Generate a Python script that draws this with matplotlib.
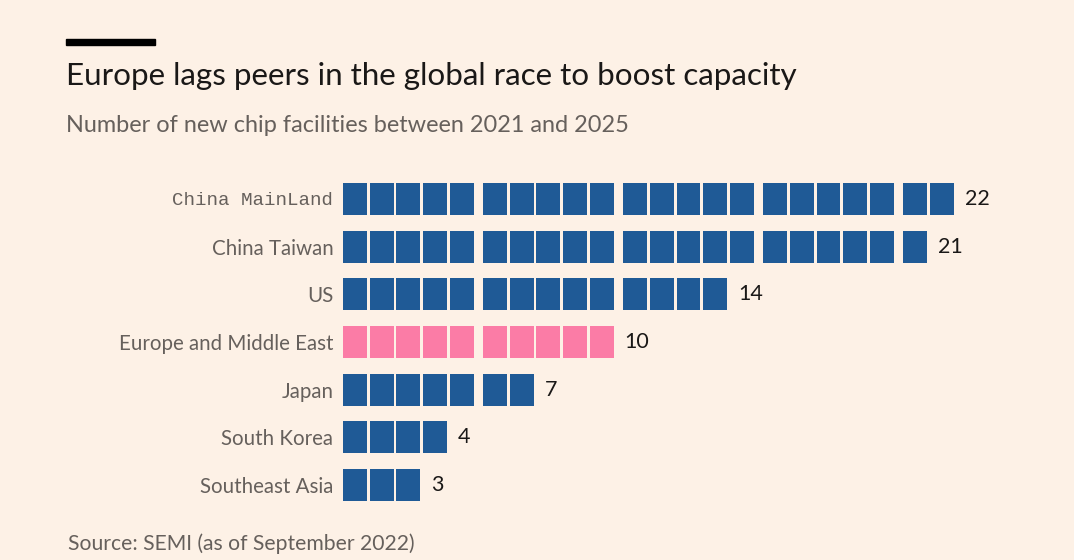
import matplotlib.pyplot as plt
from matplotlib.patches import Rectangle

countries = ["China MainLand", "China Taiwan", "US", "Europe and Middle East",
             "Japan", "South Korea", "Southeast Asia"]
facilities = [22, 21, 14, 10, 7, 4, 3]
highlight = "Europe and Middle East"

bg = "#fdf1e6"
blue = "#1f5a96"
pink = "#fb7ca6"
grey = "#66605c"
ink = "#1a1817"

plt.rcParams["font.family"] = ["Lato", "DejaVu Sans"]

fig = plt.figure(figsize=(10.74, 5.6), dpi=100, facecolor=bg)
ax = fig.add_axes([0.3194, 0.0914, 0.6713, 0.5959])
ax.set_facecolor(bg)

group_gap = 0.245
block_w = 0.89
for row, (name, n) in enumerate(zip(countries, facilities)):
    xs = [i + (i // 5) * group_gap for i in range(n)]
    color = pink if name == highlight else blue
    ax.bar(xs, [0.67] * n, bottom=row - 0.335, width=block_w, align="edge",
           color=color, linewidth=0)
    ax.annotate(str(n), xy=(xs[-1] + block_w, row), xytext=(8, 0),
                textcoords="offset points", va="center", ha="left",
                fontsize=15.5, color=ink)

ax.set_xlim(0, 27)
ax.set_ylim(len(countries) - 0.5, -0.5)
ax.set_xticks([])
ax.set_yticks(range(len(countries)))
ax.set_yticklabels(countries, fontsize=14.8, color=grey)
ax.tick_params(axis="y", length=0, pad=7)
ax.get_yticklabels()[0].set_fontfamily("Liberation Mono")
ax.get_yticklabels()[0].set_fontsize(13.8)
for s in ax.spines.values():
    s.set_visible(False)

fig.patches.append(Rectangle((66 / 1074, 1 - 45 / 560), 89 / 1074, 6 / 560,
                             transform=fig.transFigure, color="black"))
fig.text(66 / 1074, 1 - 76 / 560, "Europe lags peers in the global race to boost capacity",
         fontsize=22.6, color=ink, va="center", ha="left")
fig.text(66 / 1074, 1 - 126 / 560, "Number of new chip facilities between 2021 and 2025",
         fontsize=16.9, color=grey, va="center", ha="left")
fig.text(68 / 1074, 1 - 544 / 560, "Source: SEMI (as of September 2022)",
         fontsize=15.2, color=grey, va="center", ha="left")

fig.savefig("out.png", dpi=100, facecolor=bg)
